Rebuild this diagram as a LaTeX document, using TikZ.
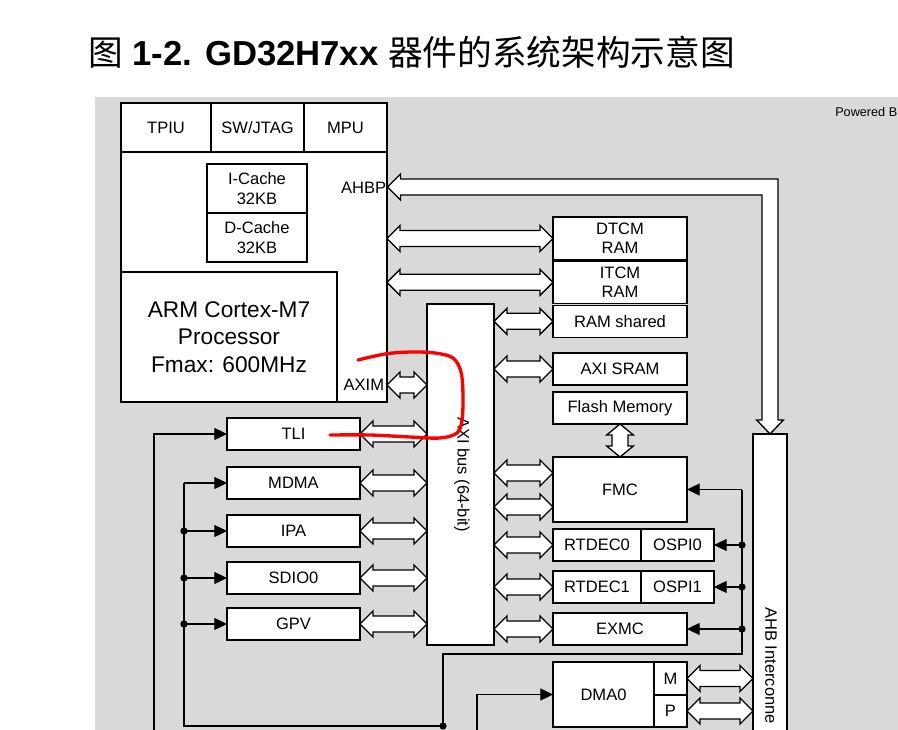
\documentclass[tikz,border=0pt]{standalone}
\usepackage{fontspec}
\setmainfont{Liberation Sans}
\newfontfamily\cjk{Noto Sans CJK SC}
\usetikzlibrary{positioning, arrows.meta, calc}
\definecolor{panel}{HTML}{D9D9D9}
\definecolor{redpen}{HTML}{FF0000}

\begin{document}
\begin{tikzpicture}[
  x=0.75pt, y=-0.75pt,
  font=\fontsize{12.4}{14.5}\selectfont,
  sz/.style 2 args={minimum width=#1*0.75pt, minimum height=#2*0.75pt},
  blk/.style={draw, fill=white, line width=1.15pt, inner sep=0pt, outer sep=0pt, align=center},
  big/.style={font=\fontsize{17}{20.5}\selectfont},
  sig/.style={line width=0.9pt, -{Triangle[length=9.5pt, width=9pt]}},
  jdot/.style={circle, fill=black, inner sep=0pt, minimum size=5.5pt},
  fat/.style={draw, fill=white, line width=1pt, line join=miter},
  hfat/.style={fat, to path={let \p1=(\tikztostart), \p2=(\tikztotarget) in
      (\x1,\y1) -- (\x1+9.75pt,\y1+9.75pt) -- (\x1+9.75pt,\y1+6pt)
      -- (\x2-9.75pt,\y1+6pt) -- (\x2-9.75pt,\y1+9.75pt) -- (\x2,\y1)
      -- (\x2-9.75pt,\y1-9.75pt) -- (\x2-9.75pt,\y1-6pt)
      -- (\x1+9.75pt,\y1-6pt) -- (\x1+9.75pt,\y1-9.75pt) -- cycle}},
  vfat/.style={fat, to path={let \p1=(\tikztostart), \p2=(\tikztotarget) in
      (\x1,\y1) -- (\x1+10pt,\y1-8.25pt) -- (\x1+6pt,\y1-8.25pt)
      -- (\x1+6pt,\y2+8.25pt) -- (\x1+10pt,\y2+8.25pt) -- (\x1,\y2)
      -- (\x1-10pt,\y2+8.25pt) -- (\x1-6pt,\y2+8.25pt)
      -- (\x1-6pt,\y1-8.25pt) -- (\x1-10pt,\y1-8.25pt) -- cycle}},
  annot/.style={draw=redpen, line width=2.5pt, line cap=round, line join=round}
]
  \useasboundingbox (0,0) rectangle (898,730);
  \clip (0,0) rectangle (898,730);

  % title and panel
  \node[anchor=base west, inner sep=0pt, font=\fontsize{26}{30}\selectfont] (ttl) at (88,66)
    {{\cjk 图} \textbf{1-2. GD32H7xx} {\cjk 器件的系统架构示意图}};
  \fill[panel] (95,97) rectangle (898,730);
  \node[anchor=base west, inner sep=0pt, font=\fontsize{9.5}{11}\selectfont] (pwr) at (835,117) {Powered B};

  % Cortex-M7 core
  \node[blk, sz={266}{299}] (cpu) at (254,252.5) {};
  \node[blk, sz={90}{49}] (tpiu) at (166,127.5) {TPIU};
  \node[blk, sz={93}{49}, right=0pt of tpiu] (swj) {SW/JTAG};
  \node[blk, sz={83}{49}, right=0pt of swj] (mpu) {MPU};
  \node[blk, sz={100}{49}] (icache) at (257,188.5) {I-Cache\\32KB};
  \node[blk, sz={100}{49}, below=0pt of icache] (dcache) {D-Cache\\32KB};
  \node[blk, big, sz={216}{130}] (proc) at (229,337) {ARM Cortex-M7\\Processor\\Fmax: 600MHz};
  \node[anchor=east, inner sep=0.5pt] (ahbp) at (387,188) {AHBP};
  \node[anchor=east, inner sep=0.5pt] (axim) at (385,385) {AXIM};

  % memories and slaves
  \node[blk, sz={134}{43}] (dtcm) at (620,238.5) {DTCM\\RAM};
  \node[blk, sz={134}{42}, below=1pt of dtcm] (itcm) {ITCM\\RAM};
  \node[blk, sz={134}{32}, below=1.5pt of itcm] (ramsh) {RAM shared};
  \node[blk, sz={134}{32}] (axisram) at (620,369) {AXI SRAM};
  \node[blk, sz={134}{32}, below=5.25pt of axisram] (flash) {Flash Memory};
  \node[blk, sz={134}{65}] (fmc) at (620,489.5) {FMC};
  \node[blk, sz={88}{32}] (rtdec0) at (597,545) {RTDEC0};
  \node[blk, sz={73}{32}, right=0pt of rtdec0] (ospi0) {OSPI0};
  \node[blk, sz={88}{32}] (rtdec1) at (597,587) {RTDEC1};
  \node[blk, sz={73}{32}, right=0pt of rtdec1] (ospi1) {OSPI1};
  \node[blk, sz={134}{32}] (exmc) at (620,629) {EXMC};
  \node[blk, sz={101}{65}] (dma0) at (603.5,694.5) {DMA0};
  \node[blk, sz={33}{33}, anchor=north west] (mch) at (dma0.north east) {M};
  \node[blk, sz={33}{32}, below=0pt of mch] (pch) {P};

  % buses
  \node[blk, sz={67}{341}] (axibus) at (460.5,474.5) {};
  \node[rotate=-90] (axilbl) at (462,474.5) {AXI bus (64-bit)};
  \node[blk, sz={34}{400}] (ahb) at (770,634) {};
  \node[rotate=-90, anchor=west, inner sep=0pt] (ahblbl) at (771,607) {AHB Interconne};

  % masters
  \node[blk, sz={133}{32}] (tli) at (293.5,434) {TLI};
  \node[blk, sz={133}{32}] (mdma) at (293.5,483) {MDMA};
  \node[blk, sz={133}{32}] (ipa) at (293.5,531) {IPA};
  \node[blk, sz={133}{32}] (sdio0) at (293.5,578) {SDIO0};
  \node[blk, sz={133}{32}] (gpv) at (293.5,624) {GPV};

  % wide bus arrows
  \coordinate (ahbptip) at (387.5,187);
  \draw[fat] let \p1=(ahbptip), \p2=(ahb.north) in
    (\x1,\y1) -- (\x1+9.75pt,\y1+9.75pt) -- (\x1+9.75pt,\y1+6pt)
    -- (\x2+6pt,\y1+6pt) -- (\x2+6pt,\y2+10.5pt) -- (\x2+10pt,\y2+10.5pt) -- (\x2,\y2)
    -- (\x2-10pt,\y2+10.5pt) -- (\x2-6pt,\y2+10.5pt) -- (\x2-6pt,\y1-6pt)
    -- (\x1+9.75pt,\y1-6pt) -- (\x1+9.75pt,\y1-9.75pt) -- cycle;
  \draw[hfat] (cpu.east |- dtcm.west) to (dtcm.west);
  \draw[hfat] (cpu.east |- itcm.west) to (itcm.west);
  \draw[hfat] (cpu.east |- axim.east) to (axibus.west |- axim.east);
  \draw[hfat] (tli.east) to (axibus.west |- tli.east);
  \draw[hfat] (mdma.east) to (axibus.west |- mdma.east);
  \draw[hfat] (ipa.east) to (axibus.west |- ipa.east);
  \draw[hfat] (sdio0.east) to (axibus.west |- sdio0.east);
  \draw[hfat] (gpv.east) to (axibus.west |- gpv.east);
  \draw[hfat] (axibus.east |- ramsh.west) to (ramsh.west);
  \draw[hfat] (axibus.east |- axisram.west) to (axisram.west);
  \coordinate (fmca) at (553,473);
  \coordinate (fmcb) at (553,507);
  \draw[hfat] (axibus.east |- fmca) to (fmca);
  \draw[hfat] (axibus.east |- fmcb) to (fmcb);
  \draw[hfat] (axibus.east |- rtdec0.west) to (rtdec0.west);
  \draw[hfat] (axibus.east |- rtdec1.west) to (rtdec1.west);
  \draw[hfat] (axibus.east |- exmc.west) to (exmc.west);
  \draw[vfat] (flash.south) to (fmc.north);
  \draw[hfat] (mch.east) to (ahb.west |- mch.east);
  \draw[hfat] (pch.east) to (ahb.west |- pch.east);

  % control lines
  \coordinate (rb1) at (742,489.5);
  \coordinate (rb2) at (742,654);
  \coordinate (lb0) at (443,654);
  \coordinate (lb1) at (184,483);
  \coordinate (lb2) at (184,726);
  \coordinate (tl0) at (154,740);
  \coordinate (dm0) at (477,740);
  \node[jdot] (jn) at (443,726) {};
  \draw[line width=0.9pt] (rb1) -- (rb2) -- (lb0) -- (jn.center);
  \draw[line width=0.9pt] (lb1) -- (lb2) -- (jn.center);
  \draw[sig] (rb1) -- (fmc.east);
  \node[jdot] (j1) at (rb1 |- ospi0.east) {};
  \node[jdot] (j2) at (rb1 |- ospi1.east) {};
  \node[jdot] (j3) at (rb1 |- exmc.east) {};
  \draw[sig] (j1.center) -- (ospi0.east);
  \draw[sig] (j2.center) -- (ospi1.east);
  \draw[sig] (j3.center) -- (exmc.east);
  \draw[sig] (lb1) -- (mdma.west);
  \node[jdot] (j4) at (lb1 |- ipa.west) {};
  \node[jdot] (j5) at (lb1 |- sdio0.west) {};
  \node[jdot] (j6) at (lb1 |- gpv.west) {};
  \draw[sig] (j4.center) -- (ipa.west);
  \draw[sig] (j5.center) -- (sdio0.west);
  \draw[sig] (j6.center) -- (gpv.west);
  \draw[sig] (tl0) |- (tli.west);
  \draw[sig] (dm0) |- (dma0.west);

  % red pen mark
  \draw[annot] plot[smooth, tension=0.55] coordinates {(358,360) (385,354) (410,352) (435,353)
    (453,358) (461,372) (463,395) (462,420) (457,433) (440,438) (410,437) (370,435) (330,435)};
\end{tikzpicture}
\end{document}
